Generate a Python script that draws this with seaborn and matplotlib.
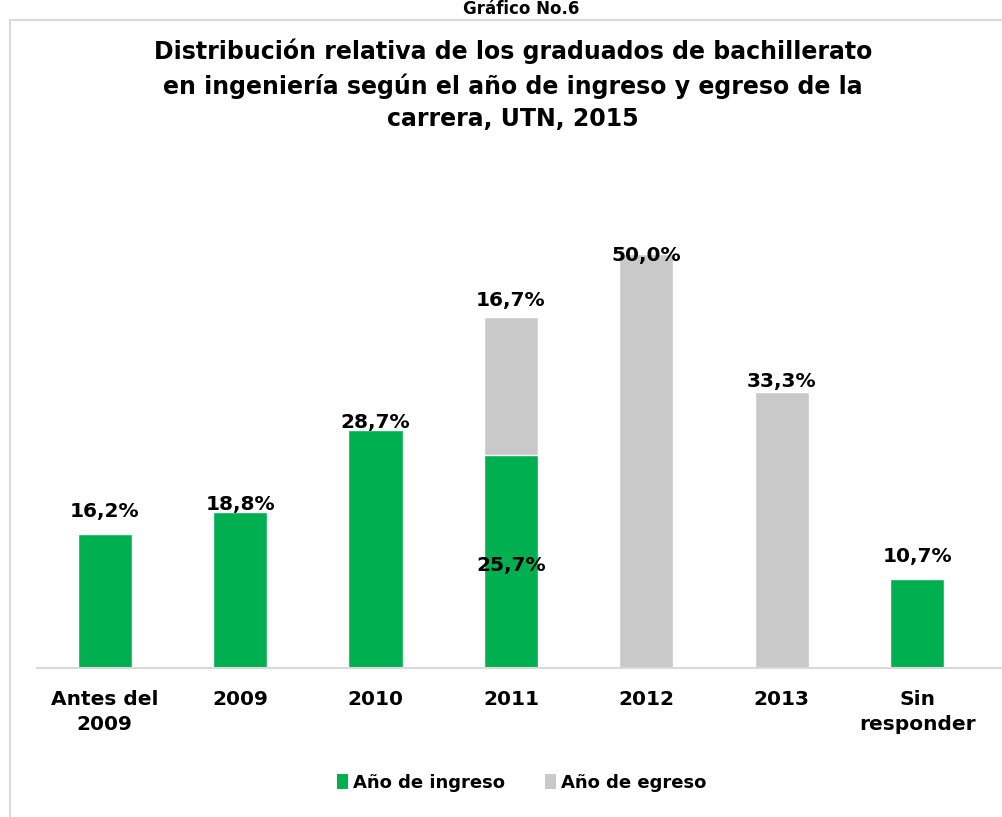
import matplotlib
matplotlib.use("Agg")
import matplotlib.pyplot as plt
import seaborn as sns
import numpy as np
from matplotlib.patches import Patch, Rectangle

categories = ["Antes del\n2009", "2009", "2010", "2011", "2012", "2013", "Sin\nresponder"]
ingreso = [16.2, 18.8, 28.7, 25.7, 0.0, 0.0, 10.7]
egreso = [0.0, 0.0, 0.0, 16.7, 50.0, 33.3, 0.0]
series_names = ["Año de ingreso", "Año de egreso"]
title = ("Distribución relativa de los graduados de bachillerato\n"
         "en ingeniería según el año de ingreso y egreso de la\n"
         "carrera, UTN, 2015")
header = "Gráfico No.6"

# label vertical offsets (points) above each bar top
ing_offsets = [9, -1, -1, None, None, None, 10]
egr_offsets = [None, None, None, 5, -8, 1, None]

GREEN = "#00B050"
GRAY = "#C9C9C9"

sns.set_theme(style="white")
plt.rcParams['font.family'] = ['DejaVu Sans']
plt.rcParams['text.color'] = 'black'

W, H = 1002, 817
fig = plt.figure(figsize=(W / 100, H / 100), dpi=100)

# frame
fig.patches.append(Rectangle((10 / W, -0.1), 1.2, 1 - 20 / H + 0.1, transform=fig.transFigure,
                             fill=False, edgecolor="#D9D9D9", linewidth=1.5))

ymax = 55
ax_left, ax_bottom = 37 / W, (H - 668) / H
ax_h = ymax * 8.28 / H
ax = fig.add_axes([ax_left, ax_bottom, 1 - ax_left, ax_h])
ax.patch.set_alpha(0)

stacked = [i + e for i, e in zip(ingreso, egreso)]
sns.barplot(x=categories, y=stacked, color=GRAY, saturation=1, width=0.4, ax=ax)
sns.barplot(x=categories, y=ingreso, color=GREEN, saturation=1, width=0.4, ax=ax)

spacing = 135.4
xmax = -0.5 + (W - 37) / spacing
ax.set_xlim(-0.5, xmax)
ax.set_ylim(0, ymax)
ax.set_yticks([])
for s in ["top", "right", "left"]:
    ax.spines[s].set_visible(False)
ax.spines["bottom"].set_color("#D9D9D9")
ax.spines["bottom"].set_linewidth(1.5)
ax.tick_params(axis="x", length=0, pad=16)
for lab in ax.get_xticklabels():
    lab.set_fontweight("bold")
    lab.set_fontsize(14.5)
    lab.set_linespacing(1.4)
    lab.set_color("black")

lab_kw = dict(ha="center", va="bottom", fontsize=14.5, fontweight="bold", color="black",
              textcoords="offset points")
for i in range(len(categories)):
    if ing_offsets[i] is not None and ingreso[i] > 0:
        ax.annotate(f"{ingreso[i]:.1f}%".replace(".", ","), (i, ingreso[i]),
                    xytext=(0, ing_offsets[i]), **lab_kw)
    if egr_offsets[i] is not None and egreso[i] > 0:
        ax.annotate(f"{egreso[i]:.1f}%".replace(".", ","), (i, stacked[i]),
                    xytext=(0, egr_offsets[i]), **lab_kw)
# 2011 ingreso label centred in its segment
idx = categories.index("2011")
ax.annotate(f"{ingreso[idx]:.1f}%".replace(".", ","), (idx, ingreso[idx] / 2),
            xytext=(0, -3), textcoords="offset points", ha="center", va="center",
            fontsize=14.5, fontweight="bold", color="black")

fig.text(0.512, 1 - 85 / H, title, ha="center", va="center", fontsize=17,
         fontweight="bold", linespacing=1.45, color="black")
fig.text(0.52, 1 - 9 / H, header, ha="center", va="center", fontsize=12,
         fontweight="bold", color="black")

handles = [Patch(facecolor=GREEN, edgecolor="none"), Patch(facecolor=GRAY, edgecolor="none")]
leg = fig.legend(handles, series_names, loc="center", bbox_to_anchor=(522 / W, 1 - 783 / H),
                 ncol=2, frameon=False, handlelength=0.6, handleheight=0.9, handletextpad=0.3,
                 columnspacing=2.2, prop=dict(size=13, weight="bold"))
for t in leg.get_texts():
    t.set_color("black")

fig.savefig("out.png", dpi=100)
